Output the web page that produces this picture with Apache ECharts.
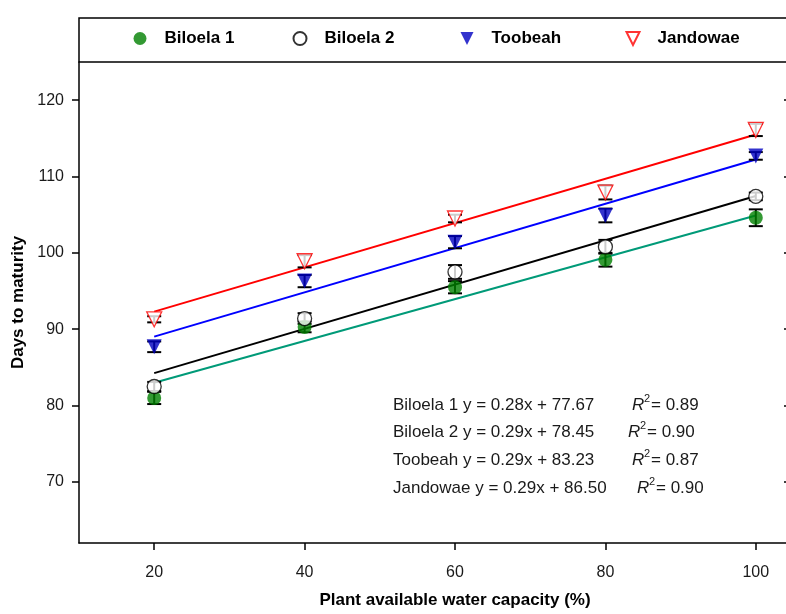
<!DOCTYPE html>
<html><head><meta charset="utf-8">
<script src="https://cdn.jsdelivr.net/npm/echarts@6/dist/echarts.min.js"></script>
<style>html,body{margin:0;padding:0;background:#fff}#c{width:786px;height:614px}</style>
</head><body><div id="c"></div>
<script>
// ---- data ----
const xValues = [20, 40, 60, 80, 100];
const seriesNames = ['Biloela 1', 'Biloela 2', 'Toobeah', 'Jandowae'];
const biloela1 = [81.0, 90.3, 95.5, 99.1, 104.6];
const biloela2 = [82.5, 91.4, 97.5, 100.8, 107.4];
const toobeah = [87.7, 96.3, 101.4, 104.9, 112.7];
const jandowae = [91.3, 98.9, 104.5, 107.9, 116.1];
const err1 = [0.8, 0.7, 0.8, 0.9, 1.1];
const err2 = [0.6, 0.7, 0.9, 0.9, 0.5];
const err3 = [0.7, 0.8, 0.8, 0.9, 0.5];
const err4 = [0.4, 0.8, 0.5, 0.9, 0.8];
const fitX = [20, 100];
const fit1 = [83.0, 104.9];
const fit2 = [84.25, 107.45];
const fit3 = [89.03, 112.23];
const fit4 = [92.3, 115.5];
const equations = ['Biloela 1 y = 0.28x + 77.67', 'Biloela 2 y = 0.29x + 78.45', 'Toobeah y = 0.29x + 83.23', 'Jandowae y = 0.29x + 86.50'];
const r2Values = ['0.89', '0.90', '0.87', '0.90'];
const xTicks = [20, 40, 60, 80, 100];
const yTicks = [70, 80, 90, 100, 110, 120];

// ---- styles ----
const FONT = 'Liberation Sans, Arial, sans-serif';
const lineColors = ['#009a78', '#000000', '#0000ff', '#ff0000'];
const DOWN_TRI = 'path://M0,0 L10,0 L5,10 Z';
const markerStyles = [
  { symbol: 'circle', size: 14, legendIcon: 'circle', itemStyle: { color: '#008000' } },
  { symbol: 'circle', size: 14, legendIcon: 'circle', itemStyle: { color: '#ffffff', borderColor: '#000', borderWidth: 1.3 } },
  { symbol: DOWN_TRI, size: 15, legendIcon: DOWN_TRI, itemStyle: { color: '#0000c0' } },
  { symbol: DOWN_TRI, size: 15, legendIcon: DOWN_TRI, itemStyle: { color: '#ffffff', borderColor: '#ff0000', borderWidth: 1.3 } }
];
const pointData = [biloela1, biloela2, toobeah, jandowae];
const errData = [err1, err2, err3, err4];
const fitData = [fit1, fit2, fit3, fit4];

const chart = echarts.init(document.getElementById('c'), null, { renderer: 'canvas' });

function errorSeries(i) {
  return {
    type: 'custom',
    name: 'err' + i,
    z: 3,
    silent: true,
    renderItem: function (params, api) {
      const x = api.value(0), y = api.value(1), e = api.value(2);
      const top = api.coord([x, y + e]);
      const bot = api.coord([x, y - e]);
      const w = 7;
      const st = { stroke: '#000', lineWidth: 2 };
      return {
        type: 'group',
        children: [
          { type: 'line', shape: { x1: top[0], y1: top[1], x2: bot[0], y2: bot[1] }, style: st },
          { type: 'line', shape: { x1: top[0] - w, y1: top[1], x2: top[0] + w, y2: top[1] }, style: st },
          { type: 'line', shape: { x1: bot[0] - w, y1: bot[1], x2: bot[0] + w, y2: bot[1] }, style: st }
        ]
      };
    },
    data: xValues.map((x, k) => [x, pointData[i][k], errData[i][k]])
  };
}

const series = [];
seriesNames.forEach((n, i) => {
  series.push({
    type: 'line', name: 'fit' + i, z: 2, silent: true,
    showSymbol: false, symbol: 'none',
    lineStyle: { color: lineColors[i], width: 2 },
    data: fitX.map((x, k) => [x, fitData[i][k]])
  });
});
seriesNames.forEach((n, i) => series.push(errorSeries(i)));
seriesNames.forEach((n, i) => {
  series.push({
    type: 'scatter', name: n, z: 10,
    symbol: markerStyles[i].symbol,
    symbolSize: markerStyles[i].size,
    itemStyle: markerStyles[i].itemStyle,
    data: xValues.map((x, k) => [x, pointData[i][k]])
  });
});

const legendIconCenters = [140, 299, 467, 632];
const legends = seriesNames.map((n, i) => ({
  data: [{ name: n, icon: markerStyles[i].legendIcon }],
  left: legendIconCenters[i] - 6.5,
  top: 30,
  padding: 0,
  itemWidth: 13,
  itemHeight: 13,
  selectedMode: false,
  textStyle: { fontSize: 17, fontWeight: 'bold', color: '#000', fontFamily: FONT, padding: [0, 0, 0, 13] }
}));

const rowY = [407, 434, 462, 490];
const r2X = [632, 628, 632, 637];
const graphics = [
  { type: 'rect', z: 10, shape: { x: 79, y: 18, width: 760, height: 44 },
    style: { fill: 'none', stroke: '#000', lineWidth: 1.5 } }
];
equations.forEach((t, i) => {
  graphics.push({ type: 'text', left: 393, top: rowY[i] - 10,
    style: { text: t, font: '17px ' + FONT, fill: '#1a1a1a' } });
  graphics.push({ type: 'text', left: r2X[i], top: rowY[i] - 10,
    style: { text: 'R', font: 'italic 17px ' + FONT, fill: '#1a1a1a' } });
  graphics.push({ type: 'text', left: r2X[i] + 12, top: rowY[i] - 14,
    style: { text: '2', font: '11px ' + FONT, fill: '#1a1a1a' } });
  graphics.push({ type: 'text', left: r2X[i] + 19, top: rowY[i] - 10,
    style: { text: '= ' + r2Values[i], font: '17px ' + FONT, fill: '#1a1a1a' } });
});

chart.setOption({
  animation: false,
  backgroundColor: '#ffffff',
  grid: { left: 79, width: 752, top: 62, bottom: 71, outerBoundsMode: 'none', containLabel: false },
  legend: legends,
  xAxis: {
    type: 'value', min: 10, max: 110,
    name: 'Plant available water capacity (%)',
    nameLocation: 'middle', nameGap: 49,
    nameTextStyle: { fontSize: 17, fontWeight: 'bold', color: '#000', fontFamily: FONT },
    axisLine: { show: true, lineStyle: { color: '#000', width: 1.5 } },
    axisTick: { show: true, length: 7, customValues: xTicks, lineStyle: { color: '#000', width: 1.5 } },
    axisLabel: { customValues: xTicks, fontSize: 16, color: '#1a1a1a', fontFamily: FONT, margin: 22 },
    splitLine: { show: false }
  },
  yAxis: [{
    type: 'value', min: 62, max: 125,
    name: 'Days to maturity',
    nameLocation: 'middle', nameGap: 43, nameRotate: 90,
    nameTextStyle: { fontSize: 17, fontWeight: 'bold', color: '#000', fontFamily: FONT },
    axisLine: { show: true, lineStyle: { color: '#000', width: 1.5 } },
    axisTick: { show: true, length: 7, customValues: yTicks, lineStyle: { color: '#000', width: 1.5 } },
    axisLabel: { customValues: yTicks, fontSize: 16, color: '#1a1a1a', fontFamily: FONT, margin: 15 },
    splitLine: { show: false }
  }, {
    type: 'value', min: 62, max: 125, position: 'right', offset: -44,
    axisLine: { show: false },
    axisTick: { show: true, inside: true, length: 3, customValues: yTicks, lineStyle: { color: '#000', width: 1.5 } },
    axisLabel: { show: false },
    splitLine: { show: false }
  }],
  graphic: graphics,
  series: series
});
</script>
</body></html>
